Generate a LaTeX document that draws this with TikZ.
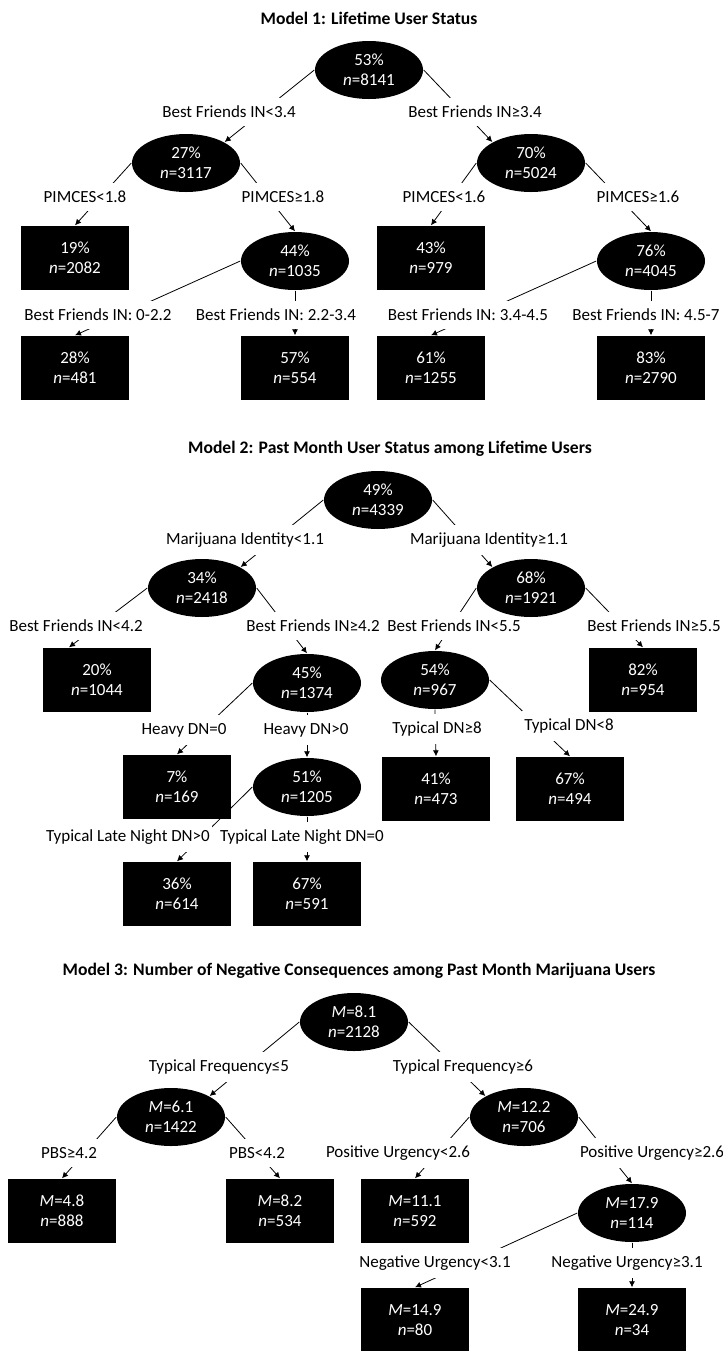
\documentclass[tikz,border=0pt]{standalone}
\usepackage{fontspec}
\setmainfont{Carlito}
\usetikzlibrary{shapes.geometric,arrows.meta}
\pgfdeclarelayer{edges}
\pgfdeclarelayer{rules}
\pgfsetlayers{edges,rules,main}

\begin{document}
\begin{tikzpicture}[x=0.5pt, y=-0.5pt, line width=0.7pt,
  font=\fontsize{8.5}{10}\selectfont,
  split/.style={ellipse, fill=black, text=white, minimum width=54pt, minimum height=29pt, inner sep=0pt, align=center},
  leaf/.style={rectangle, fill=black, text=white, minimum width=54pt, minimum height=32pt, inner sep=0pt, align=center},
  rule/.style={fill=white, inner xsep=1pt, inner ysep=4pt},
  heading/.style={font=\fontsize{8.8}{10}\selectfont\bfseries},
  branch/.style={-{Latex[length=3pt,width=3pt]}}]

\useasboundingbox (0,0) rectangle (723,1351);

% Model 1: lifetime user status
\begin{scope}[shift={(0,18)}]
  \node[heading] (t1) at (369,0) {Model 1: Lifetime User Status};

  \node[split] (m1r)   at (369, 52) {53\%\\\textit{n}=8141};
  \node[split] (m1a)   at (186,145) {27\%\\\textit{n}=3117};
  \node[split] (m1b)   at (531,145) {70\%\\\textit{n}=5024};
  \node[leaf]  (m1aa)  at ( 75,240) {19\%\\\textit{n}=2082};
  \node[split] (m1ab)  at (295,243) {44\%\\\textit{n}=1035};
  \node[leaf]  (m1ba)  at (431,240) {43\%\\\textit{n}=979};
  \node[split] (m1bb)  at (651,243) {76\%\\\textit{n}=4045};
  \node[leaf]  (m1aba) at ( 75,350) {28\%\\\textit{n}=481};
  \node[leaf]  (m1abb) at (295,350) {57\%\\\textit{n}=554};
  \node[leaf]  (m1bba) at (431,350) {61\%\\\textit{n}=1255};
  \node[leaf]  (m1bbb) at (651,350) {83\%\\\textit{n}=2790};

  \begin{pgfonlayer}{rules}
    \node[rule] (r1a)   at (229, 94) {Best Friends IN<3.4};
    \node[rule] (r1b)   at (475, 94) {Best Friends IN≥3.4};
    \node[rule] (r1aa)  at ( 85,179) {PIMCES<1.8};
    \node[rule] (r1ab)  at (283,179) {PIMCES≥1.8};
    \node[rule] (r1ba)  at (444,179) {PIMCES<1.6};
    \node[rule] (r1bb)  at (638,179) {PIMCES≥1.6};
    \node[rule] (r1aba) at ( 98,297) {Best Friends IN: 0-2.2};
    \node[rule] (r1abb) at (276,297) {Best Friends IN: 2.2-3.4};
    \node[rule] (r1bba) at (468,297) {Best Friends IN: 3.4-4.5};
    \node[rule] (r1bbb) at (646,297) {Best Friends IN: 4.5-7};
  \end{pgfonlayer}

  \begin{pgfonlayer}{edges}
    \draw[branch] (m1r.west)  -- (m1a.north east);
    \draw[branch] (m1r.east)  -- (m1b.north west);
    \draw[branch] (m1a.west)  -- (m1aa.north);
    \draw[branch] (m1a.east)  -- (m1ab.north);
    \draw[branch] (m1b.west)  -- (m1ba.north);
    \draw[branch] (m1b.east)  -- (m1bb.north);
    \draw[branch] (m1ab.west) -- (m1aba.north);
    \draw[branch] (m1ab.south) -- (m1abb.north);
    \draw[branch] (m1bb.west) -- (m1bba.north);
    \draw[branch] (m1bb.south) -- (m1bbb.north);
  \end{pgfonlayer}
\end{scope}

% Model 2: past month use among lifetime users
\begin{scope}[shift={(0,449)}]
  \node[heading] (t2) at (390,0) {Model 2: Past Month User Status among Lifetime Users};

  \node[split] (m2r)    at (378, 51) {49\%\\\textit{n}=4339};
  \node[split] (m2a)    at (202,139) {34\%\\\textit{n}=2418};
  \node[split] (m2b)    at (531,139) {68\%\\\textit{n}=1921};
  \node[leaf]  (m2aa)   at ( 97,231) {20\%\\\textit{n}=1044};
  \node[split] (m2ab)   at (307,234) {45\%\\\textit{n}=1374};
  \node[split] (m2ba)   at (435,231) {54\%\\\textit{n}=967};
  \node[leaf]  (m2bb)   at (643,231) {82\%\\\textit{n}=954};
  \node[leaf]  (m2aba)  at (177,338) {7\%\\\textit{n}=169};
  \node[split] (m2abb)  at (307,338) {51\%\\\textit{n}=1205};
  \node[leaf]  (m2baa)  at (436,340) {41\%\\\textit{n}=473};
  \node[leaf]  (m2bab)  at (570,340) {67\%\\\textit{n}=494};
  \node[leaf]  (m2abba) at (177,445) {36\%\\\textit{n}=614};
  \node[leaf]  (m2abbb) at (307,445) {67\%\\\textit{n}=591};

  \begin{pgfonlayer}{rules}
    \node[rule] (r2a)    at (245, 91) {Marijuana Identity<1.1};
    \node[rule] (r2b)    at (489, 91) {Marijuana Identity≥1.1};
    \node[rule] (r2aa)   at ( 76,177) {Best Friends IN<4.2};
    \node[rule] (r2ab)   at (313,177) {Best Friends IN≥4.2};
    \node[rule] (r2ba)   at (454,177) {Best Friends IN<5.5};
    \node[rule] (r2bb)   at (654,177) {Best Friends IN≥5.5};
    \node[rule] (r2aba)  at (184,281) {Heavy DN=0};
    \node[rule] (r2abb)  at (306,281) {Heavy DN>0};
    \node[rule] (r2baa)  at (437,280) {Typical DN≥8};
    \node[rule] (r2bab)  at (569,277) {Typical DN<8};
    \node[rule] (r2abba) at (128,388) {Typical Late Night DN>0};
    \node[rule] (r2abbb) at (302,388) {Typical Late Night DN=0};
  \end{pgfonlayer}

  \begin{pgfonlayer}{edges}
    \draw[branch] (m2r.west)   -- (m2a.north east);
    \draw[branch] (m2r.east)   -- (m2b.north west);
    \draw[branch] (m2a.west)   -- ([xshift=-14pt]m2aa.north);
    \draw[branch] (m2a.east)   -- (m2ab.north);
    \draw[branch] (m2b.west)   -- (m2ba.north);
    \draw[branch] (m2b.east)   -- (m2bb.north);
    \draw[branch] (m2ab.west)  -- (m2aba.north);
    \draw[branch] (m2ab.south) -- (m2abb.north);
    \draw[branch] (m2ba.south) -- (m2baa.north);
    \draw[branch] (m2ba.east)  -- (m2bab.north);
    \draw[branch] (m2abb.west) -- (m2abba.north);
    \draw[branch] (m2abb.south) -- (m2abbb.north);
  \end{pgfonlayer}
\end{scope}

% Model 3: negative consequences among past month users
\begin{scope}[shift={(0,971)}]
  \node[heading] (t3) at (359,0) {Model 3: Number of Negative Consequences among Past Month Marijuana Users};

  \node[split] (m3r)   at (354, 51) {\textit{M}=8.1\\\textit{n}=2128};
  \node[split] (m3a)   at (171,146) {\textit{M}=6.1\\\textit{n}=1422};
  \node[split] (m3b)   at (524,146) {\textit{M}=12.2\\\textit{n}=706};
  \node[leaf]  (m3aa)  at ( 62,240) {\textit{M}=4.8\\\textit{n}=888};
  \node[leaf]  (m3ab)  at (280,240) {\textit{M}=8.2\\\textit{n}=534};
  \node[leaf]  (m3ba)  at (415,240) {\textit{M}=11.1\\\textit{n}=592};
  \node[split] (m3bb)  at (632,242) {\textit{M}=17.9\\\textit{n}=114};
  \node[leaf]  (m3bba) at (415,349) {\textit{M}=14.9\\\textit{n}=80};
  \node[leaf]  (m3bbb) at (632,349) {\textit{M}=24.9\\\textit{n}=34};

  \begin{pgfonlayer}{rules}
    \node[rule] (r3a)   at (219, 96) {Typical Frequency≤5};
    \node[rule] (r3b)   at (463, 96) {Typical Frequency≥6};
    \node[rule] (r3aa)  at ( 69,182) {PBS≥4.2};
    \node[rule] (r3ab)  at (257,182) {PBS<4.2};
    \node[rule] (r3ba)  at (398,182) {Positive Urgency<2.6};
    \node[rule] (r3bb)  at (652,182) {Positive Urgency≥2.6};
    \node[rule] (r3bba) at (435,292) {Negative Urgency<3.1};
    \node[rule] (r3bbb) at (627,292) {Negative Urgency≥3.1};
  \end{pgfonlayer}

  \begin{pgfonlayer}{edges}
    \draw[branch] (m3r.west)  -- (m3a.north east);
    \draw[branch] (m3r.east)  -- (m3b.north west);
    \draw[branch] (m3a.west)  -- (m3aa.north);
    \draw[branch] (m3a.east)  -- (m3ab.north);
    \draw[branch] (m3b.west)  -- (m3ba.north);
    \draw[branch] (m3b.east)  -- (m3bb.north);
    \draw[branch] (m3bb.west) -- (m3bba.north);
    \draw[branch] (m3bb.south) -- (m3bbb.north);
  \end{pgfonlayer}
\end{scope}

\end{tikzpicture}
\end{document}
